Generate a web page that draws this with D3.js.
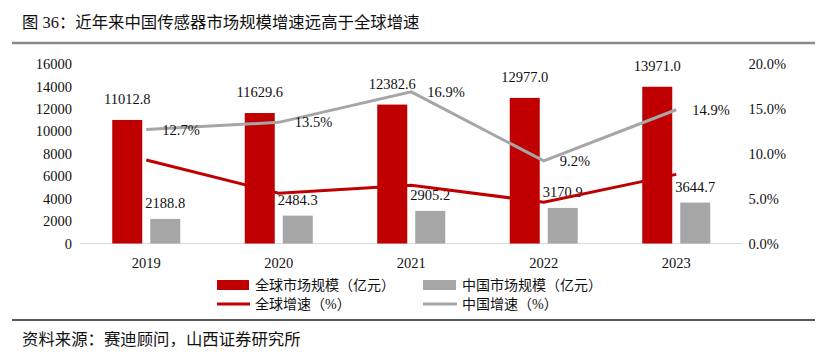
<!DOCTYPE html>
<html><head><meta charset="utf-8">
<script src="https://cdn.jsdelivr.net/npm/d3@7"></script>
<style>
html,body{margin:0;padding:0;background:#fff;}
svg{display:block;}
</style></head>
<body>
<svg id="c" width="825" height="356"></svg>
<script>
const titleText = "图 36：近年来中国传感器市场规模增速远高于全球增速";
const sourceText = "资料来源：赛迪顾问，山西证券研究所";
const years = ["2019", "2020", "2021", "2022", "2023"];
const globalMarket = [11012.8, 11629.6, 12382.6, 12977.0, 13971.0];
const chinaMarket = [2188.8, 2484.3, 2905.2, 3170.9, 3644.7];
const globalGrowth = [9.3, 5.6, 6.5, 4.6, 7.7];
const chinaGrowth = [12.7, 13.5, 16.9, 9.2, 14.9];
const leftTicks = [0, 2000, 4000, 6000, 8000, 10000, 12000, 14000, 16000];
const rightTicks = [0, 5, 10, 15, 20];
const legendNames = ["全球市场规模（亿元）", "中国市场规模（亿元）", "全球增速（%）", "中国增速（%）"];

const RED = "#C00000", GRAY = "#A6A6A6";
const serif = "'Times New Roman','Liberation Serif','Noto Sans CJK SC',serif";
const cjk = "'Liberation Serif','Noto Sans CJK SC',sans-serif";

const svg = d3.select("#c");
const x0 = 80, x1 = 742.5, yTop = 64, yBot = 243.5;

const x = d3.scaleBand().domain(years).range([x0, x1]);
const yL = d3.scaleLinear().domain([0, 16000]).range([yBot, yTop]);
const yR = d3.scaleLinear().domain([0, 20]).range([yBot, yTop]);

// title & rules
svg.append("text").attr("x", 22).attr("y", 28).attr("font-family", cjk)
  .attr("font-size", 16.4).attr("fill", "#111").text(titleText);
svg.append("line").attr("x1", 12).attr("x2", 815).attr("y1", 43).attr("y2", 43)
  .attr("stroke", "#8a8a8a").attr("stroke-width", 2.5);
svg.append("line").attr("x1", 12).attr("x2", 815).attr("y1", 320).attr("y2", 320)
  .attr("stroke", "#222").attr("stroke-width", 1.5);
svg.append("text").attr("x", 22).attr("y", 345).attr("font-family", cjk)
  .attr("font-size", 16.4).attr("fill", "#111").text(sourceText);

// axes
const axL = svg.append("g").attr("transform", `translate(${x0},0)`)
  .call(d3.axisLeft(yL).tickValues(leftTicks).tickSize(0).tickPadding(8).tickFormat(d3.format("d")));
const axR = svg.append("g").attr("transform", `translate(${x1},0)`)
  .call(d3.axisRight(yR).tickValues(rightTicks).tickSize(0).tickPadding(6).tickFormat(d => d.toFixed(1) + "%"));
const axB = svg.append("g").attr("transform", `translate(0,${yBot})`)
  .call(d3.axisBottom(x).tickSize(0).tickPadding(14));
[axL, axR, axB].forEach(a => {
  a.select(".domain").remove();
  a.selectAll("text").attr("font-family", serif).attr("font-size", 14.5).attr("fill", "#111");
});
svg.append("line").attr("x1", x0).attr("x2", x1).attr("y1", yBot).attr("y2", yBot)
  .attr("stroke", "#d9d9d9").attr("stroke-width", 1.2);

// bars
const bw = 30, off = 19;
const cx = d => x(d) + x.bandwidth() / 2;
svg.append("g").selectAll("rect").data(years).join("rect")
  .attr("x", (d) => cx(d) - off - bw / 2).attr("width", bw)
  .attr("y", (d, i) => yL(globalMarket[i])).attr("height", (d, i) => yBot - yL(globalMarket[i]))
  .attr("fill", RED);
svg.append("g").selectAll("rect").data(years).join("rect")
  .attr("x", (d) => cx(d) + off - bw / 2).attr("width", bw)
  .attr("y", (d, i) => yL(chinaMarket[i])).attr("height", (d, i) => yBot - yL(chinaMarket[i]))
  .attr("fill", GRAY);

// bar labels
svg.append("g").selectAll("text").data(years).join("text")
  .attr("x", d => cx(d) - off).attr("y", (d, i) => yL(globalMarket[i]) - 16)
  .attr("text-anchor", "middle").attr("font-family", serif).attr("font-size", 14.5).attr("fill", "#111")
  .text((d, i) => globalMarket[i].toFixed(1));
svg.append("g").selectAll("text").data(years).join("text")
  .attr("x", d => cx(d) + off).attr("y", (d, i) => yL(chinaMarket[i]) - 11)
  .attr("text-anchor", "middle").attr("font-family", serif).attr("font-size", 14.5).attr("fill", "#111")
  .text((d, i) => chinaMarket[i].toFixed(1));

// lines
const line = d3.line().x(d => cx(d[0])).y(d => yR(d[1]));
svg.append("path").datum(years.map((d, i) => [d, chinaGrowth[i]])).attr("d", line)
  .attr("fill", "none").attr("stroke", GRAY).attr("stroke-width", 3);
svg.append("path").datum(years.map((d, i) => [d, globalGrowth[i]])).attr("d", line)
  .attr("fill", "none").attr("stroke", RED).attr("stroke-width", 3);

svg.append("g").selectAll("text").data(years).join("text")
  .attr("x", d => cx(d) + 16).attr("y", (d, i) => yR(chinaGrowth[i]) + 5)
  .attr("font-family", serif).attr("font-size", 14.5).attr("fill", "#111")
  .text((d, i) => chinaGrowth[i].toFixed(1) + "%");

// legend
const lg = svg.append("g");
const lx = [217, 423], ly = [285, 304];
lg.append("rect").attr("x", lx[0]).attr("y", ly[0] - 5).attr("width", 32).attr("height", 10).attr("fill", RED);
lg.append("rect").attr("x", lx[1]).attr("y", ly[0] - 5).attr("width", 33).attr("height", 10).attr("fill", GRAY);
lg.append("line").attr("x1", lx[0]).attr("x2", lx[0] + 33).attr("y1", ly[1]).attr("y2", ly[1]).attr("stroke", RED).attr("stroke-width", 3);
lg.append("line").attr("x1", lx[1]).attr("x2", lx[1] + 34).attr("y1", ly[1]).attr("y2", ly[1]).attr("stroke", GRAY).attr("stroke-width", 3);
legendNames.forEach((n, i) => {
  lg.append("text").attr("x", lx[i % 2] + (i % 2 ? 39 : 38)).attr("y", ly[Math.floor(i / 2)] + 5)
    .attr("font-family", cjk).attr("font-size", 14).attr("fill", "#111").text(n);
});
</script>
</body></html>
